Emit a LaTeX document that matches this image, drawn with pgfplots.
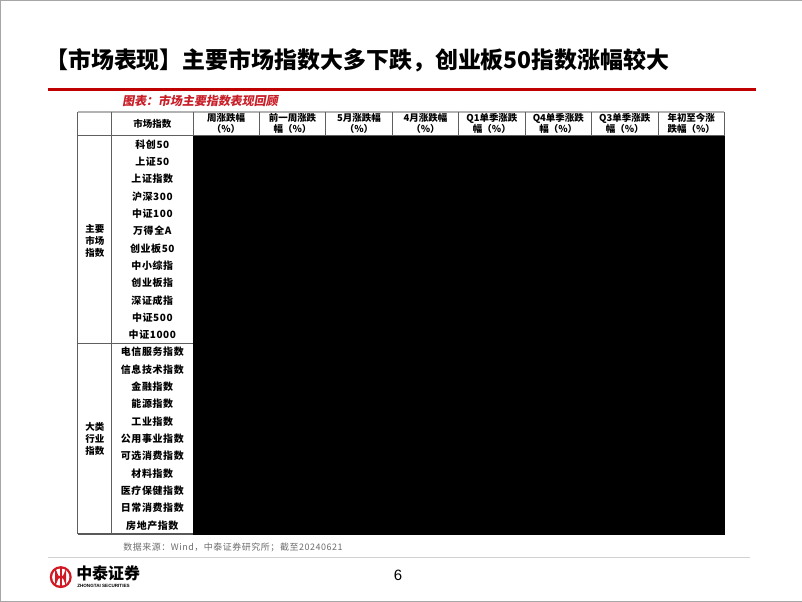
\documentclass[border=0pt]{standalone}
\usepackage{fontspec}
\setmainfont{Noto Sans CJK SC}
\newfontfamily\slfont{Noto Sans CJK SC}[FakeSlant=0.18]
\newfontfamily\numfont{Noto Sans CJK SC}[LetterSpace=8]
\newfontfamily\lblfont{Noto Sans CJK SC}[LetterSpace=6]
\newfontfamily\arial{Liberation Sans}
\usepackage{pgfplots}
\usepackage{pgfplotstable}
\pgfplotsset{compat=1.18}

\definecolor{titlered}{RGB}{192,0,0}
\definecolor{subred}{RGB}{200,30,40}
\definecolor{logored}{RGB}{210,25,35}
\definecolor{rule}{RGB}{95,95,95}
\definecolor{cblue}{RGB}{90,138,198}
\definecolor{cwhite}{RGB}{252,252,255}
\definecolor{cred}{RGB}{248,105,107}

% weekly / prior week / May / April / Q1 / Q4 / Q3 / YTD, in %
\pgfplotstableread{
r name w pw may apr q1 q4 q3 ytd
1 科创50 0.55 2.21 -3.16 0.62 -10.48 -14.58 -11.67 -10.99
2 上证50 -1.14 -1.25 -0.08 2.04 3.82 -4.31 0.60 3.13
3 上证指数 -1.14 -0.61 -0.58 2.09 2.23 -3.61 -2.86 0.78
4 沪深300 -1.30 -0.91 -0.68 1.89 3.10 -5.26 -3.98 1.88
5 中证100 -1.30 -1.09 -1.01 1.82 3.40 -5.61 -4.34 2.05
6 万得全A -1.49 0.15 -1.21 1.02 -2.85 -9.94 -4.33 -6.34
7 创业板50 -1.76 0.87 -3.88 2.71 -1.77 -11.09 -10.50 -5.08
8 中小综指 -1.94 0.88 -1.42 0.22 -5.95 -13.42 -7.42 -10.45
9 创业板指 -1.98 0.58 -2.87 2.21 -3.87 -12.38 -9.53 -7.16
10 深证成指 -2.03 -0.04 -2.32 1.98 -1.30 -10.33 -8.32 -4.83
11 中证500 -2.12 0.08 -2.44 2.93 -2.64 -10.34 -5.13 -6.02
12 中证1000 -2.42 0.53 -2.59 1.03 -7.58 -16.84 -7.92 -14.13
}\mainidx

\pgfplotstableread{
r name w pw may apr q1 q4 q3 ytd
13 电信服务指数 1.37 -0.92 -2.52 -2.06 5.72 -1.93 2.87 1.78
14 信息技术指数 -0.16 4.36 -3.33 -1.78 -8.93 -13.96 -11.91 -12.30
15 金融指数 -0.64 -0.37 0.88 3.84 3.50 -1.88 5.73 5.67
16 能源指数 -0.77 -0.21 3.23 0.17 12.93 13.45 9.46 14.34
17 工业指数 -1.23 -0.83 0.06 0.39 -1.47 -10.17 -7.90 -5.33
18 公用事业指数 -1.25 -1.22 3.22 1.66 6.53 12.95 -5.39 12.52
19 可选消费指数 -1.84 0.79 -3.23 1.60 1.47 -6.25 -2.64 -3.58
20 材料指数 -2.08 -1.18 -0.80 2.71 -2.01 -10.87 -4.44 -6.44
21 医疗保健指数 -2.53 -0.51 -3.94 2.61 -11.87 -17.44 -1.92 -17.31
22 日常消费指数 -3.92 -2.87 -1.84 1.02 -2.25 -15.89 -0.47 -11.61
23 房地产指数 -5.70 -1.39 5.79 -3.85 -9.31 -27.78 0.85 -16.09
}\induidx

% cell colour: blue below \twa, white between \twa and \twb, red above \twb
\newcommand\cellcolour{%
  \begingroup
  \pgfkeys{/pgf/fpu=true, /pgf/fpu/output format=fixed}%
  \pgfmathparse{((\rawv)<(\twa)) ? (-min(100,100*((\twa)-(\rawv))/((\twa)-(\tlo))))
    : (((\rawv)>(\twb)) ? (min(100,100*((\rawv)-(\twb))/((\thi)-(\twb)))) : 0)}%
  \let\cpct\pgfmathresult
  \ifdim\cpct pt<0pt
    \pgfmathparse{-(\cpct)}\let\cabs\pgfmathresult
    \xglobal\colorlet{cellc}{cblue!\cabs!cwhite}%
  \else
    \xglobal\colorlet{cellc}{cred!\cpct!cwhite}%
  \fi
  \endgroup}
% row centre in slide pixels
\newcommand\ry{136+17.3*(\thisrow{r}-0.5)}

\pgfplotsset{
  hm/.style n args={5}{scatter, only marks, mark=square*, mark size=8.6bp,
    point meta=explicit,
    visualization depends on={\thisrow{#1}\as\rawv},
    visualization depends on={value #2\as\tlo},
    visualization depends on={value #3\as\twa},
    visualization depends on={value #4\as\twb},
    visualization depends on={value #5\as\thi},
    mark options={xscale=3.86, line width=0.2bp},
    scatter/@pre marker code/.code={\cellcolour\scope[draw=cellc, fill=cellc]},
    scatter/@post marker code/.code={\endscope},
    nodes near coords={\pgfmathprintnumber[fixed, fixed zerofill, precision=2,
        assume math mode=true]{\rawv}},
    nodes near coords align=center,
    every node near coord/.append style={anchor=center, text=black, inner sep=0pt,
      font=\numfont\fontsize{10.5}{12}\selectfont}},
  names/.style={only marks, mark=*, mark size=0.01pt, mark options={draw=none, fill=none},
    point meta=explicit symbolic, nodes near coords, nodes near coords align=center,
    every node near coord/.append style={anchor=center, text=black, inner sep=0pt,
      font=\lblfont\bfseries\fontsize{10}{12}\selectfont}},
}
\tikzset{hdr/.style={align=center, font=\bfseries\fontsize{9.5}{11}\selectfont, inner sep=0pt}}

\begin{document}
\begin{tikzpicture}
\begin{axis}[scale only axis, width=802bp, height=602bp,
    xmin=0, xmax=802, ymin=0, ymax=602, y dir=reverse,
    hide axis, clip=false]

% heat cells, main indices
\addplot[hm={w}{-2.42}{-1.55}{-1.45}{0.55}]   table[x expr=226.2, y expr=\ry, meta=w] {\mainidx};
\addplot[hm={pw}{-3}{-1.5}{-1.4}{2.21}]       table[x expr=292.6, y expr=\ry, meta=pw] {\mainidx};
\addplot[hm={may}{-7}{-2.6}{-1.4}{1.8}]       table[x expr=359.0, y expr=\ry, meta=may] {\mainidx};
\addplot[hm={apr}{-2}{-0.3}{-0.2}{3.2}]       table[x expr=425.4, y expr=\ry, meta=apr] {\mainidx};
\addplot[hm={q1}{-16}{-2.0}{-1.6}{4.2}]       table[x expr=491.8, y expr=\ry, meta=q1] {\mainidx};
\addplot[hm={q4}{-18}{-3.0}{-2.9}{5}]         table[x expr=558.2, y expr=\ry, meta=q4] {\mainidx};
\addplot[hm={q3}{-16}{-2.9}{-2.8}{5}]         table[x expr=624.6, y expr=\ry, meta=q3] {\mainidx};
\addplot[hm={ytd}{-16}{-2.5}{-0.5}{3.6}]      table[x expr=691.0, y expr=\ry, meta=ytd] {\mainidx};
% heat cells, sectors
\addplot[hm={w}{-14}{-1.4}{-0.9}{1.37}]       table[x expr=226.2, y expr=\ry, meta=w] {\induidx};
\addplot[hm={pw}{-2.87}{-0.9}{-0.8}{4.36}]    table[x expr=292.6, y expr=\ry, meta=pw] {\induidx};
\addplot[hm={may}{-3.94}{-0.8}{-0.7}{5.79}]   table[x expr=359.0, y expr=\ry, meta=may] {\induidx};
\addplot[hm={apr}{-3.85}{0.8}{1.0}{3.84}]     table[x expr=425.4, y expr=\ry, meta=apr] {\induidx};
\addplot[hm={q1}{-11.87}{-1.5}{-1.4}{12.93}]  table[x expr=491.8, y expr=\ry, meta=q1] {\induidx};
\addplot[hm={q4}{-27.78}{-10.2}{-10.1}{13.45}] table[x expr=558.2, y expr=\ry, meta=q4] {\induidx};
\addplot[hm={q3}{-11.91}{-1.92}{-1.8}{9.46}]  table[x expr=624.6, y expr=\ry, meta=q3] {\induidx};
\addplot[hm={ytd}{-17.31}{-5.33}{-5.2}{14.34}] table[x expr=691.0, y expr=\ry, meta=ytd] {\induidx};

% row names
\addplot[names] table[x expr=152.5, y expr=\ry, meta=name] {\mainidx};
\addplot[names] table[x expr=152.5, y expr=\ry, meta=name] {\induidx};

% table rules
\draw[gray!60, line width=1.6bp] (78,112) -- (724.2,112);
\draw[rule, line width=0.8bp] (78,136) -- (724.2,136);
\draw[rule, line width=1.4bp] (78,343.6) -- (724.2,343.6);
\draw[gray!70!black, line width=1.6bp] (78,534) -- (724.2,534);
\pgfplotsinvokeforeach{78,112,193,259.4,325.8,392.2,458.6,525,591.4,657.8,724.2}
  {\draw[rule, line width=0.6bp] (#1,112) -- (#1,534);}

% header
\node[hdr] at (152.5,124) {市场指数};
\node[hdr] at (226.2,124) {周涨跌幅\\（\%）};
\node[hdr] at (292.6,124) {前一周涨跌\\幅（\%）};
\node[hdr] at (359.0,124) {5月涨跌幅\\（\%）};
\node[hdr] at (425.4,124) {4月涨跌幅\\（\%）};
\node[hdr] at (491.8,124) {Q1单季涨跌\\幅（\%）};
\node[hdr] at (558.2,124) {Q4单季涨跌\\幅（\%）};
\node[hdr] at (624.6,124) {Q3单季涨跌\\幅（\%）};
\node[hdr] at (691.0,124) {年初至今涨\\跌幅（\%）};
\node[align=center, font=\bfseries\fontsize{9.5}{12.3}\selectfont] at (95,241) {主要\\市场\\指数};
\node[align=center, font=\bfseries\fontsize{9.5}{12.3}\selectfont] at (95,439) {大类\\行业\\指数};

% slide furniture
\draw[gray!70] (0.5,0.5) rectangle (801.5,601.5);
\node[anchor=west, font=\bfseries\fontsize{23}{26}\selectfont] at (42,61)
  {【市场表现】主要市场指数大多下跌，创业板50指数涨幅较大};
\draw[titlered, line width=3bp] (48,89.5) -- (756,89.5);
\node[anchor=west, text=subred, font=\slfont\bfseries\fontsize{12}{14}\selectfont] at (119,101.5)
  {图表：市场主要指数表现回顾};
\node[anchor=west, text=gray!85!black, font=\lblfont\fontsize{9}{11}\selectfont] at (120,547)
  {数据来源：Wind，中泰证券研究所；截至20240621};
\draw[gray!35, line width=1.2bp] (48,557) -- (750,557);
\node[font=\arial\fontsize{15}{17}\selectfont] at (398,575) {6};
\fill[logored] (61,577) circle (11);
\fill[white] (61,577) circle (8.6);
\draw[logored, line width=2bp] (56.5,573) arc (180:0:4.5) -- (65.5,581) arc (0:-180:4.5) -- cycle;
\draw[logored, line width=2bp] (61,568) -- (61,586);
\node[anchor=west, font=\bfseries\fontsize{16}{18}\selectfont] at (73,573) {中泰证券};
\node[anchor=west, font=\arial\bfseries\fontsize{4.6}{5}\selectfont] at (74,586) {ZHONGTAI SECURITIES};
\end{axis}
\end{tikzpicture}
\end{document}
